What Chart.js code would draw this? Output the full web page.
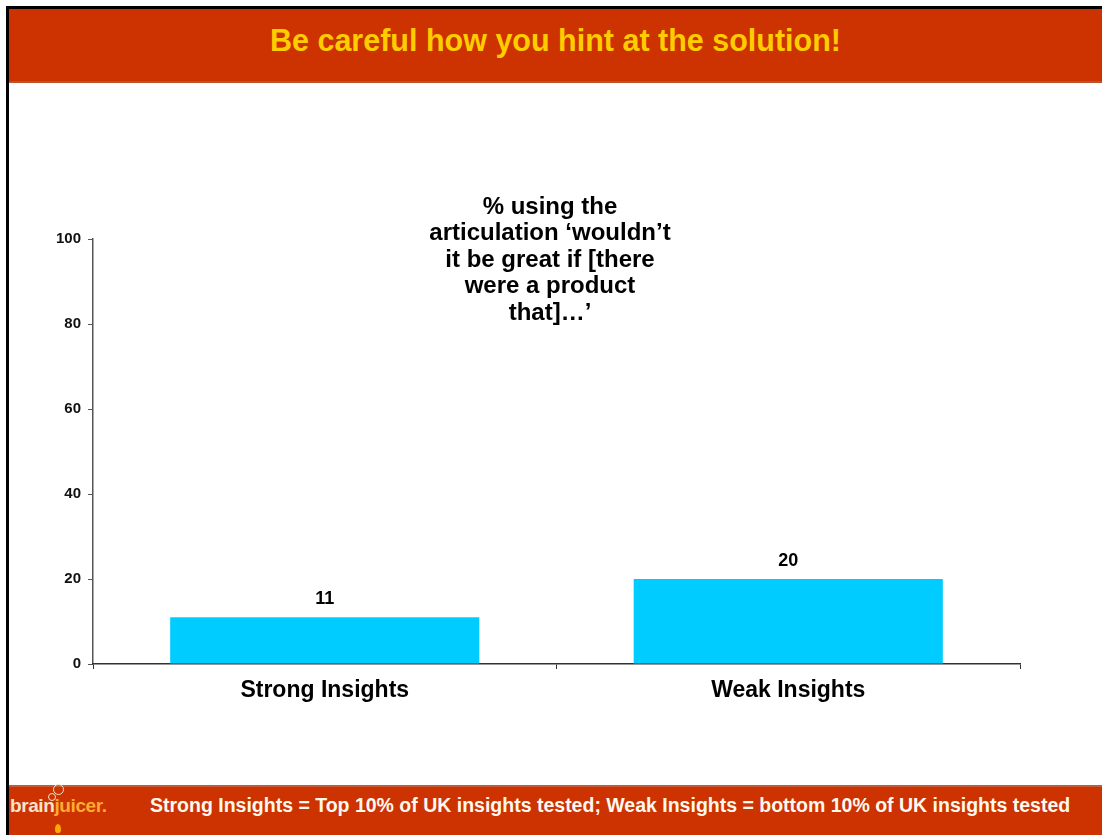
<!DOCTYPE html>
<html>
<head>
<meta charset="utf-8">
<title>Be careful how you hint at the solution!</title>
<script src="https://cdn.jsdelivr.net/npm/chart.js@4.4.0/dist/chart.umd.min.js"></script>
<style>
  body { margin: 0; background: #fff; font-family: Arial, "Liberation Sans", sans-serif; }
  #page { position: relative; width: 1102px; height: 835px; overflow: hidden; background: #fff; }
  .frame { position: absolute; left: 6px; top: 6px; right: 0; bottom: 0; border-left: 3px solid #000; border-top: 3px solid #000; }
  .band { position: absolute; left: 9px; right: 0; background: #cc3300; }
  #header { top: 9px; height: 72px; border-bottom: 2px solid #b8542e; }
  #header h1 {
    position: absolute; left: 0; right: 0; top: 13px; margin: 0;
    text-align: center; font-size: 30.5px; line-height: 36px; font-weight: bold; color: #ffcc00;
  }
  #footer { top: 785px; bottom: 0; border-top: 2px solid #c65a35; }
  #footer .note {
    position: absolute; left: 141px; top: 7px; line-height: 22px;
    font-size: 19.5px; font-weight: bold; color: #fff8ee; white-space: nowrap;
  }
  .logo { position: absolute; left: 1px; top: 8px; font-size: 19px; font-weight: bold; line-height: 22px; letter-spacing: -0.4px; }
  .logo .brain { color: #f6e3cc; }
  .logo .juicer { color: #ffaa33; }
  .bubble { position: absolute; border: 1.5px solid #f6e3cc; border-radius: 50%; }
  .drop { position: absolute; left: 46px; top: 37px; width: 6px; height: 9px; background: #ffaa00; border-radius: 50% 50% 50% 50% / 60% 60% 40% 40%; }
  #chart { position: absolute; left: 0; top: 0; }
</style>
</head>
<body>
<div id="page">
  <div class="frame"></div>
  <div class="band" id="header"><h1>Be careful how you hint at the solution!</h1></div>
  <div class="band" id="footer">
    <div class="logo"><span class="brain">brain</span><span class="juicer">juicer.</span></div>
    <div class="bubble" style="left:44px;top:-3px;width:9px;height:9px;"></div>
    <div class="bubble" style="left:39px;top:6px;width:6px;height:6px;"></div>
    <div class="drop"></div>
    <div class="note">Strong Insights = Top 10% of UK insights tested; Weak Insights = bottom 10% of UK insights tested</div>
  </div>
  <canvas id="chart" width="1102" height="835"></canvas>
</div>
<script>
const categories = ['Strong Insights', 'Weak Insights'];
const usingArticulation = [11, 20];
const yTicks = [0, 20, 40, 60, 80, 100];
const questionLines = ['% using the', 'articulation ‘wouldn’t', 'it be great if [there', 'were a product', 'that]…’'];

const FONT = 'Arial, "Liberation Sans", sans-serif';

// number above each bar, placed from the bar element itself
const valueLabels = {
  id: 'valueLabels',
  afterDatasetsDraw(chart) {
    const ctx = chart.ctx;
    const meta = chart.getDatasetMeta(0);
    ctx.save();
    ctx.font = 'bold 18px ' + FONT;
    ctx.fillStyle = '#000';
    ctx.textAlign = 'center';
    ctx.textBaseline = 'middle';
    meta.data.forEach((bar, i) => {
      ctx.fillText(String(usingArticulation[i]), bar.x, bar.y - 18);
    });
    ctx.restore();
  }
};

// the question text sitting inside the plot
const questionText = {
  id: 'questionText',
  afterDraw(chart) {
    const ctx = chart.ctx;
    ctx.save();
    ctx.font = 'bold 24px ' + FONT;
    ctx.fillStyle = '#000';
    ctx.textAlign = 'center';
    ctx.textBaseline = 'middle';
    questionLines.forEach((line, i) => ctx.fillText(line, 550, 207 + i * 26.5));
    ctx.restore();
  }
};

new Chart(document.getElementById('chart'), {
  type: 'bar',
  data: {
    labels: categories,
    datasets: [{
      data: usingArticulation,
      backgroundColor: '#00ccff',
      borderWidth: 0,
      barPercentage: 0.667,
      categoryPercentage: 1
    }]
  },
  options: {
    responsive: false,
    animation: false,
    devicePixelRatio: 1,
    layout: { padding: { left: 0, right: 82, top: 239, bottom: 121 } },
    plugins: {
      legend: { display: false },
      tooltip: { enabled: false }
    },
    scales: {
      y: {
        min: 0,
        max: 100,
        afterFit: s => { s.width = 93; },
        afterBuildTicks: s => { s.ticks = yTicks.map(v => ({ value: v })); },
        grid: { drawOnChartArea: false, tickLength: 5, color: '#555' },
        border: { color: '#555', width: 1.5 },
        ticks: { color: '#111', padding: 7, font: { family: FONT, size: 15, weight: 'bold' } }
      },
      x: {
        afterFit: s => { s.height = 50; },
        grid: { offset: true, drawOnChartArea: false, tickLength: 5, color: '#333' },
        border: { color: '#333', width: 1.5 },
        ticks: { color: '#000', padding: 8, font: { family: FONT, size: 23, weight: 'bold' } }
      }
    }
  },
  plugins: [valueLabels, questionText]
});
</script>
</body>
</html>
